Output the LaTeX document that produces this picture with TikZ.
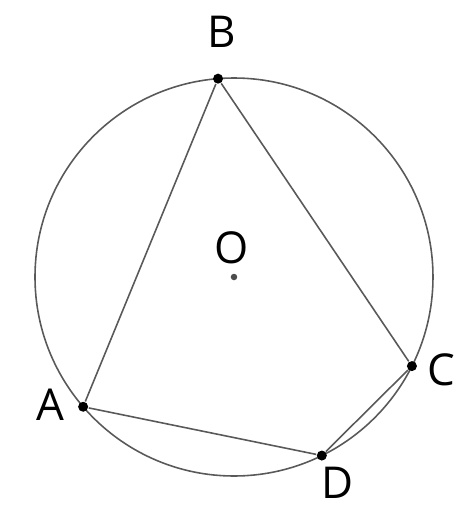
\documentclass[tikz,border=0pt]{standalone}
\usepackage{fontspec}
\setmainfont{Open Sans}
\usepackage{tikz}
\usetikzlibrary{positioning,calc}

\tikzset{
  pt/.style={circle,fill=black,inner sep=0pt,minimum size=0.1cm},
  lbl/.style={font=\fontsize{12.5}{14}\selectfont,inner sep=0pt},
  edge/.style={draw=black!65,line width=0.45pt}
}

\begin{document}
\begin{tikzpicture}
      \useasboundingbox (0,0) rectangle (4.64,5.30);
      \coordinate (O) at (2.34,2.53);
      \draw[edge] (O) circle (1.99);

      \node[pt] (B) at ($(O)+(94.6:1.99)$) {};
      \node[pt] (C) at ($(O)+(-26.6:1.99)$) {};
      \node[pt] (A) at ($(O)+(220.7:1.99)$) {};
      \node[pt] (D) at ($(O)+(-63.8:1.99)$) {};
      \node[circle,fill=black!70,inner sep=0pt,minimum size=0.065cm] (o) at (O) {};

      \draw[edge] (A) -- (B) -- (C) -- (D) -- (A);

      \node[lbl] (lb) at (2.22,4.98) {B};
      \node[lbl] (lc) at (4.41,1.60) {C};
      \node[lbl] (la) at (0.50,1.25) {A};
      \node[lbl] (ld) at (3.38,0.47) {D};
      \node[lbl] (lo) at (2.32,2.82) {O};
    \end{tikzpicture}
\end{document}
